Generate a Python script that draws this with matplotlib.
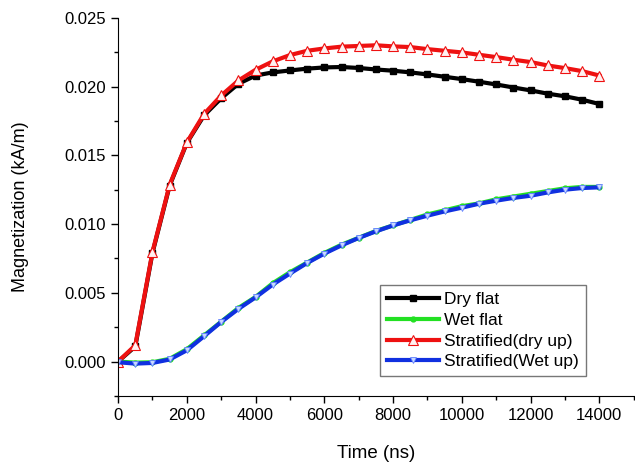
import matplotlib.pyplot as plt
from matplotlib.ticker import MultipleLocator

plt.rcParams['font.family'] = ['Liberation Sans', 'DejaVu Sans']

# Time axis (ns), sampled every 500 ns
t = [0, 500, 1000, 1500, 2000, 2500, 3000, 3500, 4000, 4500, 5000, 5500,
     6000, 6500, 7000, 7500, 8000, 8500, 9000, 9500, 10000, 10500, 11000,
     11500, 12000, 12500, 13000, 13500, 14000]

dry_flat = [0.0, 0.0011, 0.0079, 0.0128, 0.0159, 0.0179, 0.01915, 0.0202,
            0.0208, 0.02103, 0.02117, 0.0213, 0.02139, 0.02142, 0.02135,
            0.02124, 0.02115, 0.02103, 0.02088, 0.02071, 0.02054, 0.02035,
            0.02015, 0.01993, 0.01972, 0.01948, 0.01929, 0.01904, 0.01873]

wet_flat = [0.0, -0.00008, -0.00005, 0.0002, 0.0009, 0.0019, 0.0029,
            0.0039, 0.0047, 0.0057, 0.0065, 0.0072, 0.0079, 0.0085, 0.0090,
            0.0095, 0.0099, 0.0103, 0.0107, 0.0110, 0.0113, 0.0115, 0.0118,
            0.0120, 0.0122, 0.0124, 0.0126, 0.0127, 0.0127]

strat_dry_up = [0.0, 0.00118, 0.00797, 0.01286, 0.01594, 0.0180, 0.01935,
                0.02044, 0.02122, 0.02183, 0.02229, 0.0226, 0.02277, 0.0229,
                0.02295, 0.0230, 0.02292, 0.02287, 0.02272, 0.0226, 0.02248,
                0.02231, 0.02214, 0.02195, 0.02178, 0.02153, 0.02134,
                0.02112, 0.0208]

strat_wet_up = [-0.00005, -0.00015, -0.0001, 0.00015, 0.00082, 0.00184,
                0.00288, 0.00383, 0.00467, 0.0056, 0.0064, 0.00717, 0.00785,
                0.00845, 0.00899, 0.00947, 0.0099, 0.01027, 0.01061, 0.01092,
                0.01119, 0.01148, 0.0117, 0.0119, 0.01206, 0.0123, 0.0125,
                0.01262, 0.01267]

fig = plt.figure(figsize=(6.35, 4.68), dpi=100)
ax = fig.add_axes([0.186, 0.154, 0.812, 0.808])

ax.plot(t, dry_flat, color='black', lw=3, marker='s', ms=5,
        label='Dry flat')
ax.plot(t, wet_flat, color='#22e022', lw=3, marker='o', ms=3.5,
        label='Wet flat')
ax.plot(t, strat_dry_up, color='#ee1111', lw=3, marker='^', ms=6.5,
        mfc='#fff0f0', mec='#ee1111', mew=0.8, label='Stratified(dry up)')
ax.plot(t, strat_wet_up, color='#1030e0', lw=3, marker='v', ms=5,
        mfc='#c8d8ff', mec='#6080ff', mew=0.6, label='Stratified(Wet up)')

ax.set_xlim(0, 15000)
ax.set_ylim(-0.0025, 0.025)
ax.set_xticks(range(0, 14001, 2000))
ax.set_yticks([0.0, 0.005, 0.010, 0.015, 0.020, 0.025])
ax.set_yticklabels(['0.000', '0.005', '0.010', '0.015', '0.020', '0.025'])
ax.xaxis.set_minor_locator(MultipleLocator(1000))
ax.yaxis.set_minor_locator(MultipleLocator(0.0025))
ax.tick_params(which='major', direction='out', length=5, width=1,
               labelsize=12)
ax.tick_params(which='minor', direction='out', length=3, width=1)
ax.spines['top'].set_visible(False)
ax.spines['right'].set_visible(False)

ax.set_xlabel('Time (ns)', fontsize=13.5, labelpad=16)
ax.set_ylabel('Magnetization (kA/m)', fontsize=13, labelpad=26)

leg = ax.legend(loc='lower right', bbox_to_anchor=(0.907, 0.052),
                fontsize=12.5, fancybox=False, edgecolor='#555555',
                handlelength=3.0, borderpad=0.4, labelspacing=0.32,
                handletextpad=0.3, borderaxespad=0)
leg.get_frame().set_linewidth(1.0)

fig.savefig('out.png', dpi=100)
